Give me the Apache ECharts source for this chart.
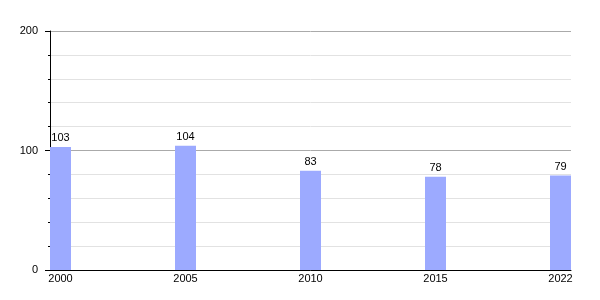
<!DOCTYPE html>
<html>
<head>
<meta charset="utf-8">
<script src="https://cdn.jsdelivr.net/npm/echarts@6/dist/echarts.min.js"></script>
<style>html,body{margin:0;padding:0;background:#fff}#c{width:600px;height:300px}</style>
</head>
<body>
<div id="c"></div>
<script>
const years = ['2000', '2005', '2010', '2015', '2022'];
const values = [103, 104, 83, 78, 79];
const yTicks = [0, 100, 200];

const chart = echarts.init(document.getElementById('c'), null, {renderer: 'canvas'});
const font = 'Liberation Sans, Arial, sans-serif';
chart.setOption({
  animation: false,
  backgroundColor: '#fff',
  grid: [
    {left: 50, right: 29, top: 31, bottom: 30},
    {left: 60.5, right: 39.5, top: 31, bottom: 30}
  ],
  xAxis: [
    {gridIndex: 0, type: 'value', min: 0, max: 1,
     axisLine: {show: true, lineStyle: {color: '#000', width: 1}},
     axisTick: {show: false}, axisLabel: {show: false}, splitLine: {show: false}},
    {gridIndex: 1, type: 'category', data: years, boundaryGap: false,
     axisLine: {show: false}, axisTick: {show: false},
     axisLabel: {color: '#000', fontSize: 11, fontFamily: font, margin: 3}}
  ],
  yAxis: [
    {gridIndex: 0, type: 'value', min: yTicks[0], max: yTicks[yTicks.length - 1], interval: 100,
     axisLine: {show: true, lineStyle: {color: '#000', width: 1}},
     axisTick: {show: true, length: 5, lineStyle: {color: '#000'}},
     minorTick: {show: true, splitNumber: 5, length: 2, lineStyle: {color: '#000'}},
     axisLabel: {color: '#000', fontSize: 11, fontFamily: font, margin: 12},
     splitLine: {show: true, lineStyle: {color: '#aaa', width: 1}},
     minorSplitLine: {show: true, lineStyle: {color: '#e2e2e2', width: 1}}},
    {gridIndex: 1, type: 'value', min: 0, max: 200, show: false, splitLine: {show: false}}
  ],
  series: [{
    type: 'bar', xAxisIndex: 1, yAxisIndex: 1, data: values, barWidth: 21,
    itemStyle: {color: '#9caaff'},
    label: {show: true, position: 'top', distance: 3, color: '#000', fontSize: 11, fontFamily: font}
  }]
});
</script>
</body>
</html>
